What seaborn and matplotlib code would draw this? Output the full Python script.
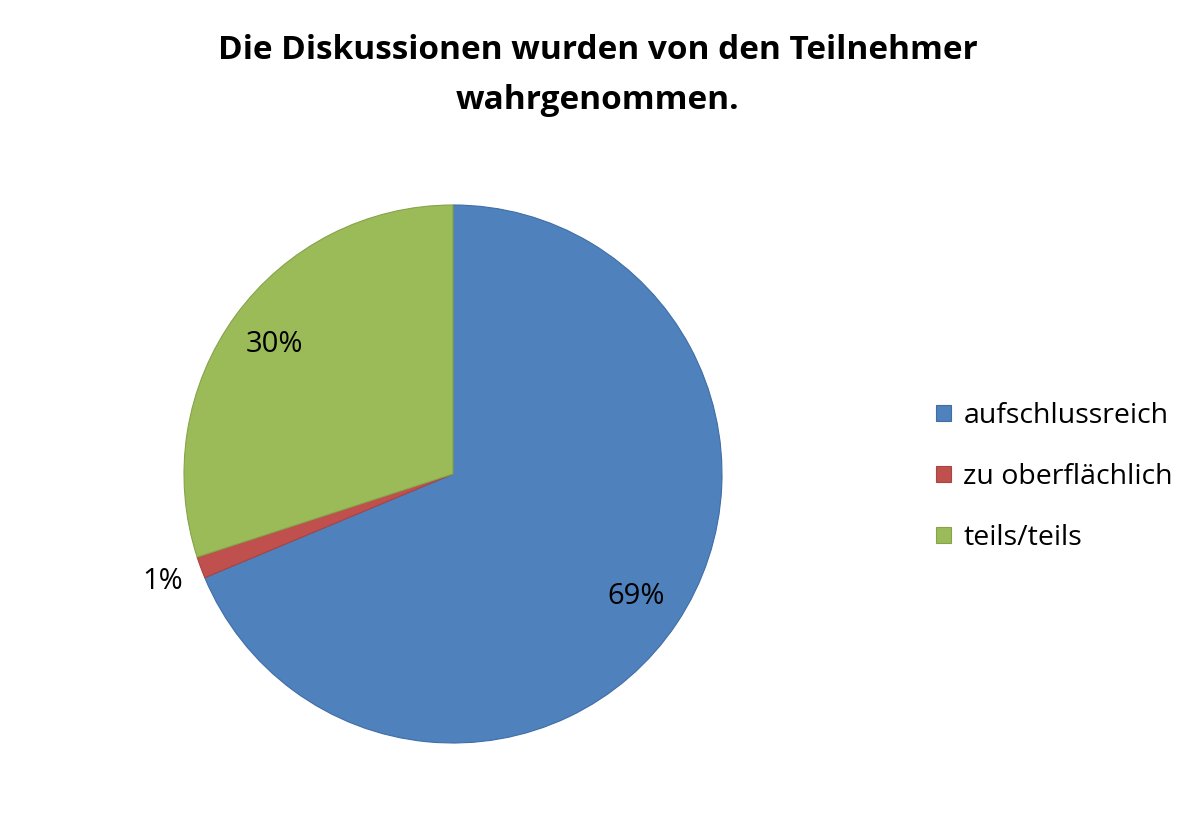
import matplotlib
matplotlib.use("Agg")
import matplotlib.pyplot as plt
import seaborn as sns
import numpy as np

sns.set_theme(style="white")
plt.rcParams['font.family'] = ['Open Sans', 'DejaVu Sans']
plt.rcParams['text.color'] = 'black'

# data
categories = ['aufschlussreich', 'zu oberflächlich', 'teils/teils']
values = [68.7, 1.3, 30.0]
colors = ['#4F81BD', '#C0504D', '#9BBB59']
edges = ['#3F6EA6', '#A94441', '#86A34A']
title = 'Die Diskussionen wurden von den Teilnehmer\nwahrgenommen.'

fig = plt.figure(figsize=(12, 8.19), dpi=100)
ax = fig.add_axes([(453 - 269) / 1200, (819 - 743) / 819, 538 / 1200, 538 / 819])

wedges, texts, autotexts = ax.pie(
    values, colors=colors, startangle=90, counterclock=False,
    autopct=lambda p: f'{p:.0f}%', pctdistance=0.82, radius=1,
    wedgeprops=dict(linewidth=0.8), textprops=dict(fontsize=21, color='black'))
for w, e in zip(wedges, edges):
    w.set_edgecolor(e)

# small slice label sits outside
w = wedges[1]
ang = np.deg2rad((w.theta1 + w.theta2) / 2)
autotexts[1].set_position((1.15 * np.cos(ang), 1.15 * np.sin(ang)))

ax.set_xlim(-1, 1)
ax.set_ylim(-1, 1)
ax.set_aspect('equal')
ax.axis('off')

fig.text(0.498, 0.959, title, ha='center', va='top', fontsize=24,
         fontweight='bold', linespacing=1.68, color='black')

leg = fig.legend(wedges, categories, loc='center left', bbox_to_anchor=(0.759, 0.4175),
                 frameon=False, fontsize=20.5, handlelength=0.5, handleheight=0.5,
                 handletextpad=0.45, labelspacing=1.16)
for t in leg.get_texts():
    t.set_color('black')

fig.savefig('out.png', dpi=100)
